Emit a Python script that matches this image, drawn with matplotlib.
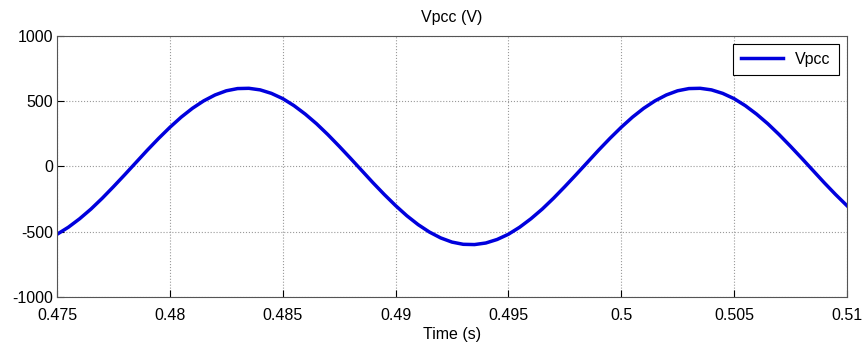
import numpy as np
import matplotlib.pyplot as plt

plt.rcParams['font.family'] = ['Liberation Sans', 'DejaVu Sans']
plt.rcParams['axes.unicode_minus'] = False

# Vpcc samples every 0.5 ms from 0.475 s to 0.51 s
t_start, t_end = 0.475, 0.51
vpcc = [-520, -466, -401, -327, -244, -155, -63, 31, 125, 215,
        300, 378, 446, 503, 548, 580, 597, 599, 587, 560,
        520, 466, 401, 327, 244, 155, 63, -31, -125, -215,
        -300, -378, -446, -503, -548, -580, -597, -599, -587, -560,
        -520, -466, -401, -327, -244, -155, -63, 31, 125, 215,
        300, 378, 446, 503, 548, 580, 597, 599, 587, 560,
        520, 466, 401, 327, 244, 155, 63, -31, -125, -215,
        -300]
t = np.linspace(t_start, t_end, len(vpcc))

xticks = [0.475, 0.48, 0.485, 0.49, 0.495, 0.5, 0.505, 0.51]
xticklabels = ['0.475', '0.48', '0.485', '0.49', '0.495', '0.5', '0.505', '0.51']
yticks = [-1000, -500, 0, 500, 1000]

fig = plt.figure(figsize=(8.65, 3.53), dpi=100)
ax = fig.add_axes([0.066, 0.159, 0.913, 0.739])

ax.plot(t, vpcc, color='#0000dd', linewidth=2.5, label='Vpcc')

ax.set_xlim(t_start, t_end)
ax.set_ylim(-1000, 1000)
ax.set_xticks(xticks)
ax.set_xticklabels(xticklabels)
ax.set_yticks(yticks)
ax.tick_params(direction='in', length=5, labelsize=11.5, colors='black')
ax.tick_params(axis='x', pad=8)
ax.tick_params(axis='y', pad=3)
ax.grid(True, linestyle=':', color='#999999', linewidth=0.8)
for s in ax.spines.values():
    s.set_color('#555555')

ax.set_title('Vpcc (V)', fontsize=11.5, pad=10)
ax.set_xlabel('Time (s)', fontsize=11.5, labelpad=3)

leg = ax.legend(loc='upper right', fontsize=11.5, fancybox=False, framealpha=1,
                edgecolor='black', handlelength=2.6, borderpad=0.5)
leg.get_frame().set_linewidth(0.8)

plt.savefig('out.png', dpi=100)
